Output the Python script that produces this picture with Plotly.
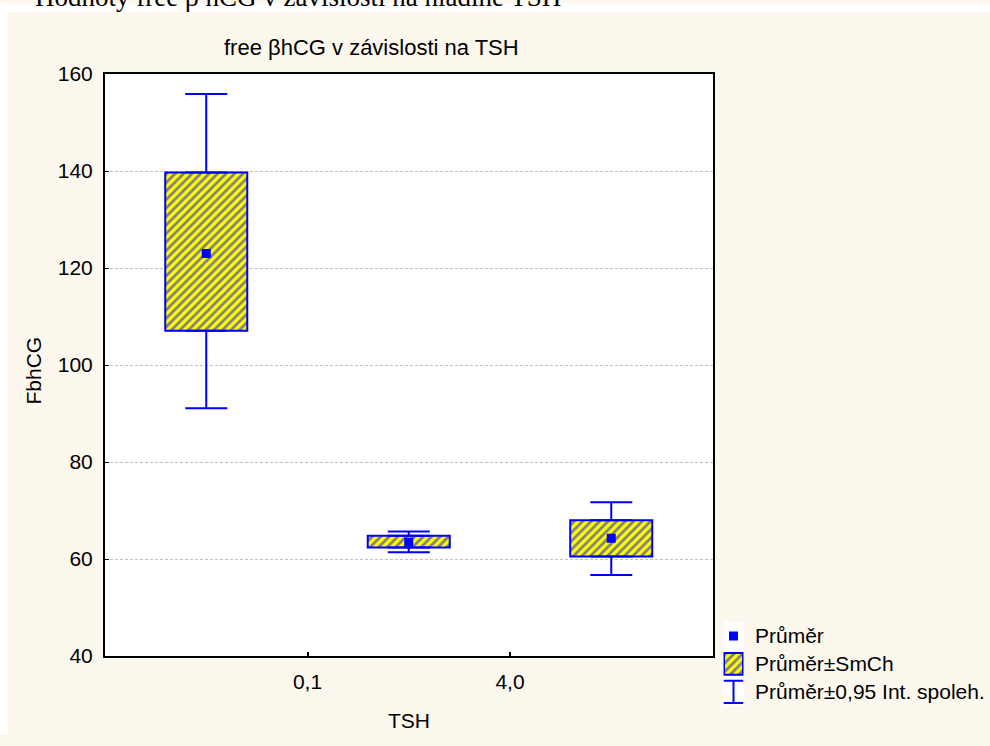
import plotly.graph_objects as go

# ---- data ----
groups = [0, 1, 2]                      # three TSH groups (positions)
tick_positions = [0.5, 1.5]
tick_labels = ["0,1", "4,0"]
means = [123.0, 63.5, 64.3]
se_low = [107.1, 62.4, 60.5]
se_high = [139.7, 64.8, 68.0]
ci_low = [91.1, 61.4, 56.7]
ci_high = [155.9, 65.7, 71.7]
y_ticks = [40, 60, 80, 100, 120, 140, 160]
legend_labels = ["Průměr", "Průměr±SmCh", "Průměr±0,95 Int. spoleh."]
legend_rows = [0, 1, 2]

# ---- geometry helpers (pixels -> paper) ----
W, H = 990, 746
ML, MT = 8, 9
PW, PH = W - ML, H - MT


def px(x):
    return (x - ML) / PW


def py(y):
    return (H - y) / PH


BLUE = "#0000FF"
YELLOW = "#FFFF00"
CREAM = "#FCF8EE"
FONT = "Liberation Sans, Arial, sans-serif"
FS = 21

PATTERN = dict(shape="/", fgcolor=BLUE, bgcolor=YELLOW, size=6, solidity=0.45)

fig = go.Figure()

# SE boxes (patterned bars)
fig.add_trace(go.Bar(
    x=groups,
    y=[h - l for h, l in zip(se_high, se_low)],
    base=se_low,
    width=0.405,
    marker=dict(color=YELLOW, line=dict(color=BLUE, width=2), pattern=PATTERN),
    showlegend=False, hoverinfo="skip",
))

# upper whiskers
fig.add_trace(go.Scatter(
    x=groups, y=se_high, mode="markers",
    marker=dict(size=1, opacity=0),
    error_y=dict(type="data", symmetric=False,
                 array=[c - s for c, s in zip(ci_high, se_high)],
                 arrayminus=[0] * len(groups),
                 width=21, thickness=2, color=BLUE),
    showlegend=False, hoverinfo="skip",
))
# lower whiskers
fig.add_trace(go.Scatter(
    x=groups, y=se_low, mode="markers",
    marker=dict(size=1, opacity=0),
    error_y=dict(type="data", symmetric=False,
                 array=[0] * len(groups),
                 arrayminus=[s - c for s, c in zip(se_low, ci_low)],
                 width=21, thickness=2, color=BLUE),
    showlegend=False, hoverinfo="skip",
))
# means
fig.add_trace(go.Scatter(
    x=groups, y=means, mode="markers",
    marker=dict(symbol="square", size=9, color=BLUE, line=dict(width=0)),
    showlegend=False, hoverinfo="skip",
))

# ---- manual legend glyphs on an inset axis ----
fig.add_trace(go.Scatter(
    x=[0], y=[legend_rows[0]], mode="markers", xaxis="x2", yaxis="y2",
    marker=dict(symbol="square", size=9, color=BLUE, line=dict(width=0)),
    showlegend=False, hoverinfo="skip",
))
fig.add_trace(go.Bar(
    x=[0], y=[0.77], base=[legend_rows[1] - 0.385], width=0.95,
    xaxis="x2", yaxis="y2",
    marker=dict(color=YELLOW, line=dict(color=BLUE, width=2), pattern=PATTERN),
    showlegend=False, hoverinfo="skip",
))
fig.add_trace(go.Scatter(
    x=[0], y=[legend_rows[2]], mode="markers", xaxis="x2", yaxis="y2",
    marker=dict(size=1, opacity=0),
    error_y=dict(type="data", array=[0.4], width=10, thickness=2, color=BLUE),
    showlegend=False, hoverinfo="skip",
))

annotations = []
row_y = [645, 673.5, 702]
for lbl, yy in zip(legend_labels, row_y):
    annotations.append(dict(
        x=px(753), y=py(yy), xref="paper", yref="paper",
        text=lbl, showarrow=False, xanchor="left", yanchor="middle",
        font=dict(family=FONT, size=FS, color="black")))

# chart title
annotations.append(dict(
    x=px(371), y=py(45), xref="paper", yref="paper",
    text="free βhCG v závislosti na TSH", showarrow=False,
    xanchor="center", yanchor="middle",
    font=dict(family=FONT, size=22, color="black")))
# axis titles
annotations.append(dict(
    x=px(33.5), y=py(375), xref="paper", yref="paper",
    text="FbhCG", showarrow=False, textangle=-90,
    xanchor="center", yanchor="middle",
    font=dict(family=FONT, size=FS, color="black")))
annotations.append(dict(
    x=px(409), y=py(731), xref="paper", yref="paper",
    text="TSH", showarrow=False,
    xanchor="center", yanchor="middle",
    font=dict(family=FONT, size=FS, color="black")))
# cut-off document caption above the chart
annotations.append(dict(
    x=px(563), y=py(-6), xref="paper", yref="paper",
    text="Hodnoty free β hCG v závislosti na hladině TSH", showarrow=False,
    xanchor="right", yanchor="middle",
    font=dict(family="Liberation Serif, Times New Roman, serif", size=27,
              color="black")))

shapes = [
    # white strips outside the chart image
    dict(type="rect", xref="paper", yref="paper",
         x0=px(0), x1=px(W), y0=1, y1=py(0), fillcolor="white",
         line=dict(width=0), layer="below"),
    dict(type="rect", xref="paper", yref="paper",
         x0=px(0), x1=0, y0=py(H), y1=py(0), fillcolor="white",
         line=dict(width=0), layer="below"),
]

fig.update_layout(
    width=W, height=H,
    margin=dict(l=ML, r=0, t=MT, b=0, pad=0),
    paper_bgcolor=CREAM, plot_bgcolor="white",
    font=dict(family=FONT, size=FS, color="black"),
    showlegend=False,
    bargap=0,
    barmode="overlay",
    xaxis=dict(
        domain=[px(105), px(712.5)], range=[-0.5, 2.5],
        tickmode="array", tickvals=tick_positions, ticktext=tick_labels,
        ticks="inside", ticklen=4, tickwidth=2, tickcolor="black",
        showgrid=False, zeroline=False,
        showline=True, linecolor="black", linewidth=2, mirror=True,
        tickfont=dict(family=FONT, size=FS, color="black"),
        ticklabelstandoff=6, fixedrange=True,
    ),
    yaxis=dict(
        domain=[py(665.5), py(72.3)], range=[40, 160],
        tickmode="array", tickvals=y_ticks,
        ticks="inside", ticklen=4, tickwidth=1, tickcolor="black",
        showgrid=True, gridcolor="#C0C0C0", griddash="3px,2px", gridwidth=1,
        zeroline=False,
        showline=True, linecolor="black", linewidth=2, mirror=True,
        tickfont=dict(family=FONT, size=FS, color="black"),
        ticklabelstandoff=6, fixedrange=True,
    ),
    xaxis2=dict(domain=[px(723.5), px(743.5)], range=[-0.5, 0.5],
                visible=False, fixedrange=True, anchor="y2"),
    yaxis2=dict(domain=[py(716.25), py(630.75)], range=[2.5, -0.5],
                visible=False, fixedrange=True, anchor="x2"),
    annotations=annotations,
    shapes=shapes,
)

fig.write_html(
    "out.html",
    config={"displayModeBar": False, "staticPlot": True},
    post_script=(
        "document.documentElement.style.margin='0';"
        "document.body.style.margin='0';"
        "document.body.style.overflow='hidden';"
        "document.documentElement.style.overflow='hidden';"
    ),
)
